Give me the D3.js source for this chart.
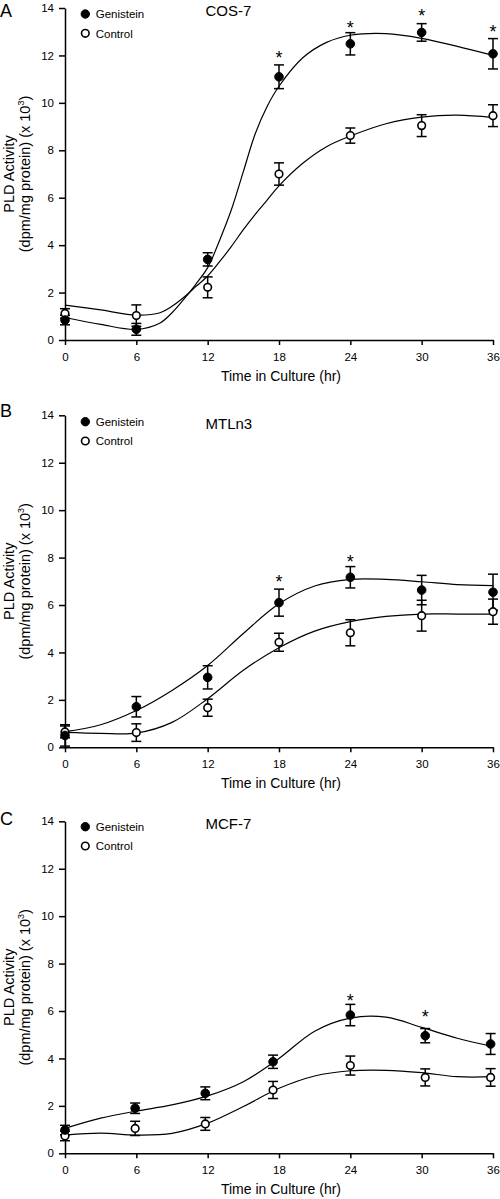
<!DOCTYPE html>
<html><head><meta charset="utf-8">
<script src="https://cdn.jsdelivr.net/npm/d3@7"></script>
<style>
body{margin:0;background:#fff}
svg{display:block}
text{font-family:"Liberation Sans",Arial,Helvetica,sans-serif;fill:#000}
</style>
</head><body>
<svg id="chart" width="500" height="1199"></svg>
<script>
// ---------- DATA ----------
const xTicks = [0, 6, 12, 18, 24, 30, 36];
const yTicks = [0, 2, 4, 6, 8, 10, 12, 14];
const seriesNames = ["Genistein", "Control"];
const xTitle = "Time in Culture (hr)";

// Panel A: COS-7
const cosTimes   = [0, 6, 12, 18, 24, 30, 36];
const cosGen     = [0.84, 0.45, 3.4, 11.1, 12.49, 12.97, 12.07];
const cosGenErr  = [0.2, 0.25, 0.28, 0.5, 0.47, 0.37, 0.64];
const cosCtl     = [1.12, 1.03, 2.22, 7.0, 8.62, 9.04, 9.46];
const cosCtlErr  = [0.2, 0.45, 0.44, 0.47, 0.32, 0.46, 0.46];
const cosSigT    = [18, 24, 30, 36];
const cosSigY    = [12.05, 13.31, 13.82, 13.17];
const cosFitT    = [0, 3, 6, 8, 9, 10, 11, 12, 13, 14, 15, 16, 17, 18, 20, 22, 24, 27, 30, 33, 36];
const cosGenFit  = [0.95, 0.66, 0.45, 0.72, 1.15, 1.72, 2.35, 3.05, 4.2, 5.5, 7.1, 8.7, 9.85, 10.7, 11.9, 12.55, 12.85, 12.92, 12.72, 12.38, 12.0];
const cosCtlFit  = [1.47, 1.27, 1.05, 1.15, 1.42, 1.8, 2.25, 2.7, 3.3, 3.95, 4.65, 5.3, 5.9, 6.5, 7.45, 8.15, 8.6, 9.12, 9.4, 9.48, 9.38];

// Panel B: MTLn3
const mtlTimes   = [0, 6, 12, 18, 24, 30, 36];
const mtlGen     = [0.5, 1.71, 2.95, 6.1, 7.17, 6.63, 6.54];
const mtlGenErr  = [0.45, 0.43, 0.49, 0.57, 0.45, 0.62, 0.76];
const mtlCtl     = [0.65, 0.62, 1.67, 4.43, 4.83, 5.55, 5.72];
const mtlCtlErr  = [0.25, 0.37, 0.36, 0.38, 0.55, 0.65, 0.53];
const mtlSigT    = [18, 24];
const mtlSigY    = [7.15, 8.0];
const mtlFitT    = [0, 3, 6, 9, 12, 15, 18, 21, 24, 27, 30, 33, 36];
const mtlGenFit  = [0.66, 0.95, 1.55, 2.4, 3.45, 4.8, 6.05, 6.8, 7.08, 7.08, 6.98, 6.86, 6.82];
const mtlCtlFit  = [0.63, 0.59, 0.6, 1.05, 2.05, 3.25, 4.2, 4.9, 5.3, 5.52, 5.62, 5.62, 5.62];

// Panel C: MCF-7
const mcfTimes   = [0, 5.9, 11.8, 17.5, 24, 30.3, 35.8];
const mcfGen     = [0.98, 1.9, 2.53, 3.86, 5.83, 4.96, 4.61];
const mcfGenErr  = [0.2, 0.22, 0.27, 0.28, 0.45, 0.3, 0.44];
const mcfCtl     = [0.73, 1.05, 1.24, 2.67, 3.7, 3.2, 3.2];
const mcfCtlErr  = [0.2, 0.3, 0.27, 0.36, 0.4, 0.36, 0.37];
const mcfSigT    = [24, 30.3];
const mcfSigY    = [6.6, 5.9];
const mcfFitT    = [0, 3, 6, 9, 12, 15, 18, 21, 24, 27, 30, 33, 36];
const mcfGenFit  = [1.05, 1.48, 1.78, 2.04, 2.42, 3.02, 4.0, 5.15, 5.7, 5.74, 5.31, 4.85, 4.5];
const mcfCtlFit  = [0.77, 0.85, 0.77, 0.84, 1.27, 1.97, 2.74, 3.26, 3.48, 3.5, 3.4, 3.23, 3.23];

// ---------- LAYOUT ----------
const panels = [
  {letter:"A", title:"COS-7", t:cosTimes, gen:cosGen, genErr:cosGenErr, ctl:cosCtl, ctlErr:cosCtlErr,
   sigT:cosSigT, sigY:cosSigY, fitT:cosFitT, genFit:cosGenFit, ctlFit:cosCtlFit,
   y0:340, y14:8, letterY:17, titleY:16.4, legY:14},
  {letter:"B", title:"MTLn3", t:mtlTimes, gen:mtlGen, genErr:mtlGenErr, ctl:mtlCtl, ctlErr:mtlCtlErr,
   sigT:mtlSigT, sigY:mtlSigY, fitT:mtlFitT, genFit:mtlGenFit, ctlFit:mtlCtlFit,
   y0:747.3, y14:415.3, letterY:416.7, titleY:429, legY:421.7},
  {letter:"C", title:"MCF-7", t:mcfTimes, gen:mcfGen, genErr:mcfGenErr, ctl:mcfCtl, ctlErr:mcfCtlErr,
   sigT:mcfSigT, sigY:mcfSigY, fitT:mcfFitT, genFit:mcfGenFit, ctlFit:mcfCtlFit,
   y0:1153.3, y14:821.3, letterY:824.5, titleY:829.4, legY:826.7}
];

const svg = d3.select("#chart");
const xL = 65, xR = 493;

panels.forEach(p => {
  const g = svg.append("g");
  const x = d3.scaleLinear().domain([0, 36]).range([xL, xR]);
  const y = d3.scaleLinear().domain([0, 14]).range([p.y0, p.y14]);

  // axes
  const xa = g.append("g").attr("transform", `translate(0,${p.y0})`)
    .call(d3.axisBottom(x).tickValues(xTicks).tickSize(5).tickSizeOuter(0).tickPadding(8));
  const ya = g.append("g").attr("transform", `translate(${xL},0)`)
    .call(d3.axisLeft(y).tickValues(yTicks).tickSize(6).tickSizeOuter(0).tickPadding(5));
  [xa, ya].forEach(a => {
    a.selectAll("path,line").attr("stroke", "#000").attr("stroke-width", 1.5);
    a.selectAll("text").attr("font-size", "11.5px").attr("fill", "#000")
      .attr("font-family", '"Liberation Sans",Arial,sans-serif');
  });

  // axis titles
  g.append("text").attr("x", 281).attr("y", p.y0 + 41).attr("text-anchor", "middle")
    .attr("font-size", "14px").text(xTitle);
  const yc = (p.y0 + p.y14) / 2;
  g.append("text").attr("transform", `translate(14,${yc}) rotate(-90)`).attr("text-anchor", "middle")
    .attr("font-size", "14.5px").text("PLD Activity");
  const l2 = g.append("text").attr("transform", `translate(29.5,${yc}) rotate(-90)`).attr("text-anchor", "middle")
    .attr("font-size", "14.5px");
  l2.append("tspan").text("(dpm/mg protein) (x 10");
  l2.append("tspan").attr("font-size", "9px").attr("dy", -5.5).text("3");
  l2.append("tspan").attr("dy", 5.5).text(")");

  // panel letter and title
  g.append("text").attr("x", 0).attr("y", p.letterY).attr("font-size", "18px").text(p.letter);
  g.append("text").attr("x", 205.5).attr("y", p.titleY).attr("font-size", "15px").text(p.title);

  // legend
  g.append("circle").attr("cx", 85.3).attr("cy", p.legY).attr("r", 4.2).attr("fill", "#000").attr("stroke", "#000");
  g.append("circle").attr("cx", 85.3).attr("cy", p.legY + 19.3).attr("r", 3.8).attr("fill", "#fff")
    .attr("stroke", "#000").attr("stroke-width", 1.6);
  g.append("text").attr("x", 95.7).attr("y", p.legY + 4.2).attr("font-size", "11.5px").text(seriesNames[0]);
  g.append("text").attr("x", 95.7).attr("y", p.legY + 23.5).attr("font-size", "11.5px").text(seriesNames[1]);

  // fitted curves
  const line = d3.line().x(d => x(d[0])).y(d => y(d[1])).curve(d3.curveCatmullRom.alpha(0.5));
  [p.genFit, p.ctlFit].forEach(vals => {
    g.append("path").datum(p.fitT.map((t, i) => [t, vals[i]]))
      .attr("d", line).attr("fill", "none").attr("stroke", "#000").attr("stroke-width", 1.2);
  });

  // error bars
  const drawErr = (means, errs) => {
    const d = p.t.map((t, i) => ({t, m: means[i], e: errs[i]}));
    const eg = g.append("g").attr("stroke", "#000").attr("stroke-width", 1.5);
    eg.selectAll(".v").data(d).join("line")
      .attr("x1", d => x(d.t)).attr("x2", d => x(d.t))
      .attr("y1", d => y(d.m - d.e)).attr("y2", d => y(d.m + d.e));
    eg.selectAll(".ct").data(d).join("line")
      .attr("x1", d => x(d.t) - 5).attr("x2", d => x(d.t) + 5)
      .attr("y1", d => y(d.m + d.e)).attr("y2", d => y(d.m + d.e));
    eg.selectAll(".cb").data(d).join("line")
      .attr("x1", d => x(d.t) - 5).attr("x2", d => x(d.t) + 5)
      .attr("y1", d => y(d.m - d.e)).attr("y2", d => y(d.m - d.e));
  };
  drawErr(p.gen, p.genErr);
  drawErr(p.ctl, p.ctlErr);

  // markers
  g.append("g").selectAll("circle").data(p.t.map((t, i) => [t, p.ctl[i]])).join("circle")
    .attr("cx", d => x(d[0])).attr("cy", d => y(d[1])).attr("r", 3.8)
    .attr("fill", "#fff").attr("stroke", "#000").attr("stroke-width", 1.6);
  g.append("g").selectAll("circle").data(p.t.map((t, i) => [t, p.gen[i]])).join("circle")
    .attr("cx", d => x(d[0])).attr("cy", d => y(d[1])).attr("r", 4.3)
    .attr("fill", "#000").attr("stroke", "#000").attr("stroke-width", 1);

  // significance asterisks
  g.append("g").selectAll("text").data(p.sigT.map((t, i) => [t, p.sigY[i]])).join("text")
    .attr("x", d => x(d[0])).attr("y", d => y(d[1]) + 10).attr("text-anchor", "middle")
    .attr("font-size", "18px").text("*");
});
</script>
</body></html>
